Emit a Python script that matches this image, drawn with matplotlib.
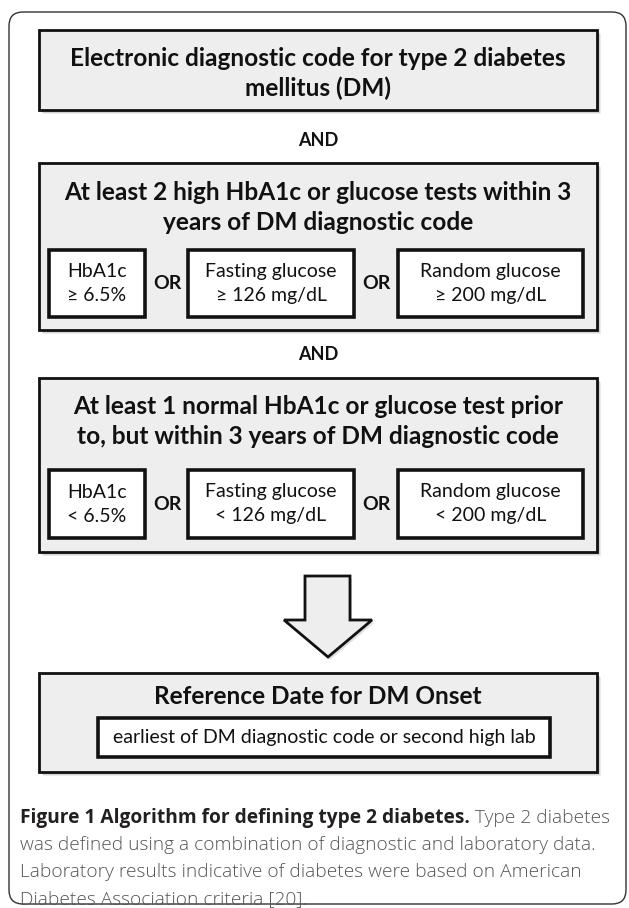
import matplotlib
matplotlib.use("Agg")
import matplotlib.pyplot as plt
from matplotlib.patches import Rectangle, FancyBboxPatch, Polygon

W, H = 629, 908

# ---- content ----
box1_lines = ["Electronic diagnostic code for type 2 diabetes", "mellitus (DM)"]
connector = "AND"
box2_lines = ["At least 2 high HbA1c or glucose tests within 3", "years of DM diagnostic code"]
box2_subs = ["HbA1c\n\u2265 6.5%", "Fasting glucose\n\u2265 126 mg/dL", "Random glucose\n\u2265 200 mg/dL"]
box3_lines = ["At least 1 normal HbA1c or glucose test prior", "to, but within 3 years of DM diagnostic code"]
box3_subs = ["HbA1c\n< 6.5%", "Fasting glucose\n< 126 mg/dL", "Random glucose\n< 200 mg/dL"]
sub_joiner = "OR"
box4_title = "Reference Date for DM Onset"
box4_sub = "earliest of DM diagnostic code or second high lab"
caption_bold = "Figure 1 Algorithm for defining type 2 diabetes."
caption_lines = [" Type 2 diabetes",
                 "was defined using a combination of diagnostic and laboratory data.",
                 "Laboratory results indicative of diabetes were based on American",
                 "Diabetes Association criteria [20]."]

FONT = "Lato"
CAPFONT = "Open Sans"
HEAD = 17.6
SUB = 14.0

fig = plt.figure(figsize=(W / 100, H / 100), dpi=100)
ax = fig.add_axes([0, 0, 1, 1])
ax.set_xlim(0, W)
ax.set_ylim(H, 0)
ax.axis("off")

GRAY = "#eeeeee"


def shadow_box(x0, y0, x1, y1, fc, lw, off=4):
    for k, a in ((off, 0.08), (off - 1, 0.10), (off - 2, 0.14)):
        ax.add_patch(Rectangle((x0 + k, y0 + k), x1 - x0, y1 - y0, fc="#000000",
                               ec="none", alpha=a, zorder=1))
    ax.add_patch(Rectangle((x0, y0), x1 - x0, y1 - y0, fc=fc, ec="#111111",
                           lw=lw, zorder=2))


# outer frame
ax.add_patch(FancyBboxPatch((9, 12), 617, 892,
                            boxstyle="round,pad=0,rounding_size=14",
                            fc="white", ec="#333333", lw=1.0, zorder=0))

BX0, BX1 = 39, 597
CX = (BX0 + BX1) / 2

# box 1
shadow_box(BX0, 30, BX1, 110, GRAY, 2.0)
ax.text(CX, 58, box1_lines[0], ha="center", va="center", fontsize=HEAD,
        fontweight="bold", family=FONT, color="#111111", zorder=3)
ax.text(CX, 88, box1_lines[1], ha="center", va="center", fontsize=HEAD,
        fontweight="bold", family=FONT, color="#111111", zorder=3)

ax.text(CX, 140, connector, ha="center", va="center", fontsize=13,
        fontweight="bold", family=FONT, color="#111111")

sub_x = [(49, 145), (188, 354), (398, 583)]
or_x = [167, 376]


def crit_box(y0, y1, title, subs, sy0, sy1):
    shadow_box(BX0, y0, BX1, y1, GRAY, 2.0)
    ax.text(CX, y0 + 29, title[0], ha="center", va="center", fontsize=HEAD,
            fontweight="bold", family=FONT, color="#111111", zorder=3)
    ax.text(CX, y0 + 59, title[1], ha="center", va="center", fontsize=HEAD,
            fontweight="bold", family=FONT, color="#111111", zorder=3)
    for (x0, x1), s in zip(sub_x, subs):
        shadow_box(x0, sy0, x1, sy1, "white", 2.6, off=5)
        ax.text((x0 + x1) / 2, (sy0 + sy1) / 2, s, ha="center", va="center",
                fontsize=SUB, family=FONT, color="#111111", zorder=3,
                linespacing=1.5)
    for ox in or_x:
        ax.text(ox, (sy0 + sy1) / 2, sub_joiner, ha="center", va="center",
                fontsize=SUB, fontweight="bold", family=FONT, color="#111111", zorder=3)


crit_box(163, 330, box2_lines, box2_subs, 250, 317)
ax.text(CX, 354, connector, ha="center", va="center", fontsize=13,
        fontweight="bold", family=FONT, color="#111111")
crit_box(378, 552, box3_lines, box3_subs, 470, 538)

# arrow
arrow = [(305, 576), (350, 576), (350, 620), (372, 620), (328, 657),
         (284, 620), (305, 620)]
ax.add_patch(Polygon([(x + 2, y + 3) for x, y in arrow], closed=True, fc="#000000",
                     ec="none", alpha=0.12, zorder=1))
ax.add_patch(Polygon(arrow, closed=True, fc="#eeeeee", ec="#111111", lw=2.0,
                     joinstyle="miter", zorder=2))

# box 4
shadow_box(BX0, 673, BX1, 772, GRAY, 2.0)
ax.text(CX, 697, box4_title, ha="center", va="center", fontsize=HEAD,
        fontweight="bold", family=FONT, color="#111111", zorder=3)
shadow_box(98, 718, 550, 757, "white", 2.6, off=5)
ax.text(324, 737, box4_sub, ha="center", va="center", fontsize=SUB,
        family=FONT, color="#111111", zorder=3)

# caption
CAP = 13.8
fig.canvas.draw()
r = fig.canvas.get_renderer()
cb = ax.text(20, 818, caption_bold, ha="left", va="center", fontsize=CAP,
             fontweight="bold", family=CAPFONT, color="#231f20")
bb = cb.get_window_extent(renderer=r)
x_end = ax.transData.inverted().transform((bb.x1, bb.y0))[0]
ax.text(x_end, 818, caption_lines[0], ha="left", va="center", fontsize=CAP,
        family=CAPFONT, color="#555555", fontweight="light")
for i, line in enumerate(caption_lines[1:]):
    ax.text(20, 845 + 27 * i, line, ha="left", va="center", fontsize=CAP,
            family=CAPFONT, color="#555555", fontweight="light")

fig.savefig("out.png", dpi=100)
